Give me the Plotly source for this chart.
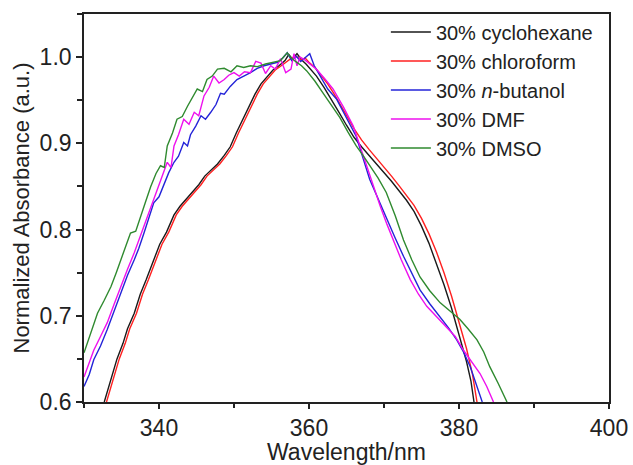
import plotly.graph_objects as go

# ---- data ----
cyc_x = [332.7, 333.5, 334.4, 335.2, 335.8, 336.7, 337.5, 338.3, 339.2, 340.1, 341.0, 342.0, 342.8,
         343.7, 344.6, 345.3, 346.1, 347.0, 347.8, 348.7, 349.5, 350.3, 351.2, 352.0, 352.8, 353.6,
         354.4, 355.2, 356.0, 356.8, 357.3, 357.8, 358.4, 359.0, 359.6, 360.3, 361.0, 362.0, 363.0,
         364.0, 365.0, 366.0, 367.0, 368.0, 369.0, 370.0, 371.0, 372.0, 373.0, 374.0, 375.0, 376.0,
         377.0, 378.0, 379.0, 380.0, 381.0, 381.6, 382.0]
cyc_y = [0.600, 0.625, 0.650, 0.668, 0.685, 0.703, 0.725, 0.742, 0.762, 0.783, 0.797, 0.817, 0.827,
         0.836, 0.846, 0.852, 0.862, 0.870, 0.876, 0.886, 0.896, 0.912, 0.928, 0.943, 0.957, 0.969,
         0.977, 0.985, 0.990, 0.996, 1.003, 0.998, 1.004, 0.997, 0.992, 0.985, 0.978, 0.965, 0.951,
         0.936, 0.921, 0.907, 0.896, 0.886, 0.877, 0.866, 0.856, 0.845, 0.834, 0.821, 0.804, 0.784,
         0.761, 0.736, 0.709, 0.679, 0.647, 0.624, 0.600]

chl_x = [333.0, 333.8, 334.7, 335.5, 336.1, 337.0, 337.8, 338.6, 339.5, 340.4, 341.3, 342.3, 343.1,
         344.0, 344.9, 345.6, 346.4, 347.3, 348.1, 349.0, 349.8, 350.6, 351.5, 352.3, 353.1, 353.9,
         354.7, 355.5, 356.3, 357.1, 357.7, 358.3, 358.9, 359.5, 360.1, 360.8, 361.5, 362.4, 363.3,
         364.2, 365.1, 366.0, 367.0, 368.0, 369.0, 370.0, 371.0, 372.0, 373.0, 374.0, 375.0, 376.0,
         377.0, 378.0, 379.0, 380.0, 381.0, 381.8, 382.4]
chl_y = [0.600, 0.625, 0.650, 0.668, 0.685, 0.703, 0.725, 0.742, 0.762, 0.783, 0.797, 0.817, 0.827,
         0.836, 0.846, 0.852, 0.862, 0.870, 0.876, 0.886, 0.896, 0.912, 0.928, 0.943, 0.957, 0.969,
         0.977, 0.985, 0.990, 0.995, 0.999, 1.001, 0.997, 0.999, 0.993, 0.988, 0.980, 0.970, 0.958,
         0.945, 0.931, 0.917, 0.904, 0.893, 0.883, 0.872, 0.862, 0.851, 0.840, 0.828, 0.813, 0.795,
         0.774, 0.750, 0.723, 0.694, 0.662, 0.632, 0.600]

but_x = [330.0, 330.7, 331.3, 332.2, 333.1, 334.0, 334.9, 335.8, 336.7, 337.3, 338.0, 338.7, 339.3,
         340.0, 340.7, 341.3, 342.0, 342.6, 343.3, 343.8, 344.2, 344.9, 345.6, 346.2, 346.9, 347.6,
         348.2, 348.7, 349.5, 350.4, 351.3, 352.2, 353.1, 354.0, 354.9, 355.8, 356.5, 357.1, 357.7,
         358.3, 358.9, 359.5, 360.1, 360.7, 361.5, 362.5, 363.7, 365.0, 366.3, 367.2, 368.1, 369.2,
         370.3, 371.4, 372.6, 373.7, 374.8, 376.1, 377.5, 378.6, 379.7, 380.6, 381.5, 382.3, 383.1]
but_y = [0.618, 0.632, 0.649, 0.665, 0.684, 0.705, 0.726, 0.747, 0.765, 0.778, 0.796, 0.814, 0.831,
         0.838, 0.854, 0.866, 0.878, 0.885, 0.901, 0.897, 0.910, 0.920, 0.932, 0.928, 0.936, 0.945,
         0.958, 0.957, 0.966, 0.974, 0.978, 0.982, 0.987, 0.990, 0.992, 0.994, 0.999, 1.005, 0.996,
         1.001, 0.995, 0.999, 1.004, 0.990, 0.978, 0.963, 0.951, 0.930, 0.908, 0.883, 0.858, 0.836,
         0.815, 0.792, 0.769, 0.750, 0.730, 0.714, 0.699, 0.686, 0.672, 0.658, 0.641, 0.621, 0.600]

dmf_x = [330.0, 330.7, 331.3, 332.2, 333.1, 334.0, 334.9, 335.8, 336.7, 337.5, 338.4, 339.1, 339.8,
         340.5, 341.1, 341.6, 342.0, 342.6, 343.3, 344.0, 344.7, 345.3, 346.0, 346.7, 347.3, 348.0,
         348.7, 349.3, 350.0, 350.7, 351.4, 352.2, 352.9, 353.6, 354.2, 354.9, 355.5, 356.2, 356.9,
         357.6, 358.0, 358.4, 358.8, 359.4, 360.2, 361.0, 362.1, 363.2, 364.6, 365.9, 366.8, 367.7,
         368.6, 369.5, 370.4, 371.2, 372.3, 373.5, 374.6, 375.7, 377.0, 378.3, 379.5, 380.6, 381.7,
         382.8, 383.7, 384.6]
dmf_y = [0.629, 0.645, 0.660, 0.676, 0.692, 0.713, 0.734, 0.754, 0.773, 0.792, 0.812, 0.830, 0.847,
         0.862, 0.878, 0.872, 0.897, 0.910, 0.928, 0.922, 0.936, 0.932, 0.955, 0.965, 0.978, 0.970,
         0.974, 0.979, 0.982, 0.978, 0.983, 0.982, 0.995, 0.993, 0.981, 0.990, 0.986, 0.998, 0.982,
         0.986, 1.004, 0.990, 1.000, 0.997, 0.992, 0.986, 0.975, 0.963, 0.942, 0.920, 0.897, 0.873,
         0.850, 0.827, 0.806, 0.788, 0.765, 0.742, 0.725, 0.711, 0.699, 0.688, 0.676, 0.660, 0.647,
         0.633, 0.618, 0.600]

dmso_x = [330.0, 330.9, 331.8, 332.7, 333.6, 334.3, 334.9, 335.6, 336.2, 336.9, 337.6, 338.2, 338.9,
          339.6, 340.2, 340.7, 341.1, 341.8, 342.4, 343.1, 343.8, 344.4, 345.1, 345.8, 346.4, 347.1,
          347.8, 348.7, 349.6, 350.4, 351.3, 352.2, 353.1, 354.2, 355.3, 356.2, 357.1, 357.5, 358.2,
          359.0, 359.7, 360.8, 361.9, 363.0, 364.1, 365.2, 366.3, 367.2, 368.1, 369.2, 370.3, 371.5,
          372.6, 373.7, 374.8, 376.1, 377.5, 378.8, 380.1, 381.2, 382.4, 383.3, 384.1, 385.2, 386.4]
dmso_y = [0.657, 0.681, 0.703, 0.718, 0.734, 0.750, 0.765, 0.781, 0.796, 0.798, 0.815, 0.832, 0.850,
          0.865, 0.874, 0.872, 0.897, 0.912, 0.928, 0.931, 0.943, 0.952, 0.963, 0.960, 0.974, 0.978,
          0.986, 0.987, 0.983, 0.990, 0.988, 0.990, 0.989, 0.992, 0.994, 0.996, 1.005, 1.000, 0.995,
          0.990, 0.984, 0.972, 0.958, 0.944, 0.930, 0.913, 0.897, 0.886, 0.874, 0.860, 0.843, 0.816,
          0.788, 0.765, 0.745, 0.729, 0.715, 0.705, 0.696, 0.685, 0.672, 0.658, 0.641, 0.622, 0.600]

series = [
    ("30% cyclohexane", cyc_x, cyc_y, "#1a1a1a"),
    ("30% chloroform", chl_x, chl_y, "#ff2020"),
    ("30% <i>n</i>-butanol", but_x, but_y, "#2323d8"),
    ("30% DMF", dmf_x, dmf_y, "#ee10ee"),
    ("30% DMSO", dmso_x, dmso_y, "#2f8a2f"),
]

x_ticks = [340, 360, 380, 400]
y_ticks = [0.6, 0.7, 0.8, 0.9, 1.0]

fig = go.Figure()
for name, xs, ys, col in series:
    fig.add_trace(go.Scatter(x=xs, y=ys, mode="lines", name=name,
                             line=dict(color=col, width=1.4)))

font_family = "Liberation Sans, Arial, sans-serif"
fig.update_layout(
    width=633, height=465,
    margin=dict(l=84, r=24, t=14, b=63, autoexpand=False),
    paper_bgcolor="white", plot_bgcolor="white",
    font=dict(family=font_family, size=24, color="#222222"),
    showlegend=True,
    legend=dict(x=0.575, y=1.004, xanchor="left", yanchor="top",
                bgcolor="rgba(0,0,0,0)", borderwidth=0,
                font=dict(size=20, color="#222222"), itemwidth=40,
                tracegroupgap=0),
)
fig.update_xaxes(
    range=[330, 400], tickvals=x_ticks, ticktext=[str(v) for v in x_ticks],
    ticks="outside", ticklen=5, tickwidth=1.5, tickcolor="#222222",
    minor=dict(dtick=10, tick0=330, ticks="outside", ticklen=4, tickwidth=1.5, tickcolor="#222222"),
    showline=True, linecolor="#222222", linewidth=1.6, mirror=True,
    showgrid=False, zeroline=False, automargin=False,
    title=dict(text="Wavelength/nm", standoff=2, font=dict(size=23)),
    tickfont=dict(size=23),
)
fig.update_yaxes(
    range=[0.6, 1.05], tickvals=y_ticks, ticktext=["%.1f" % v for v in y_ticks],
    ticks="outside", ticklen=6, tickwidth=1.5, tickcolor="#222222",
    minor=dict(dtick=0.05, tick0=0.6, ticks="outside", ticklen=5, tickwidth=1.5, tickcolor="#222222"),
    showline=True, linecolor="#222222", linewidth=1.6, mirror=True,
    showgrid=False, zeroline=False, automargin=False,
    title=dict(text="Normalized Absorbance (a.u.)", standoff=4, font=dict(size=22)),
    tickfont=dict(size=23),
)

fig.write_html("out.html",
               config={"displayModeBar": False},
               post_script="document.body.style.margin='0';document.body.style.padding='0';")
